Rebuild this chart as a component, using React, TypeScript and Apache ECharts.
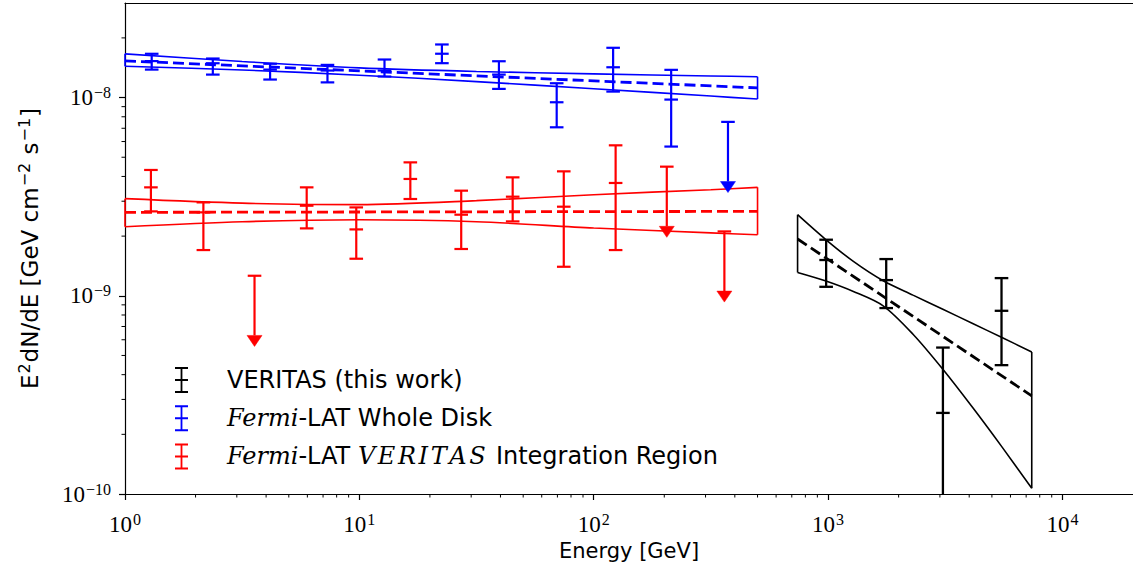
import React, { useEffect, useRef } from "react";
import * as echarts from "echarts";

// ---------- Fermi-LAT whole disk (blue) ----------
const diskE = [1.3, 2.37, 4.16, 7.31, 12.8, 22.5, 39.4, 69.5, 121, 214];
const diskF = [1.528e-8, 1.49e-8, 1.384e-8, 1.369e-8, 1.369e-8, 1.664e-8, 1.306e-8, 9.47e-9, 1.422e-8, 9.77e-9];
const diskLo = [1.384e-8, 1.306e-8, 1.233e-8, 1.193e-8, 1.277e-8, 1.491e-8, 1.106e-8, 7.08e-9, 1.072e-8, 5.66e-9];
const diskHi = [1.663e-8, 1.574e-8, 1.481e-8, 1.462e-8, 1.556e-8, 1.853e-8, 1.525e-8, 1.181e-8, 1.783e-8, 1.38e-8];
const diskUlE = [374];
const diskUlF = [7.54e-9];

// ---------- Fermi-LAT VERITAS integration region (red) ----------
const regE = [1.29, 2.16, 5.96, 9.7, 16.5, 27.2, 45.1, 74.5, 124];
const regF = [3.524e-9, 2.636e-9, 2.847e-9, 2.162e-9, 3.885e-9, 2.565e-9, 3.162e-9, 2.815e-9, 3.708e-9];
const regLo = [2.666e-9, 1.701e-9, 2.188e-9, 1.538e-9, 3.078e-9, 1.722e-9, 2.373e-9, 1.401e-9, 1.701e-9];
const regHi = [4.313e-9, 2.959e-9, 3.524e-9, 2.792e-9, 4.711e-9, 3.391e-9, 3.958e-9, 4.244e-9, 5.742e-9];
const regUlE = [3.57, 205, 361];
const regUlF = [1.262e-9, 4.482e-9, 2.112e-9];

// ---------- VERITAS (black) ----------
const verE = [981, 1770, 3090, 5495];
const verF = [1.515e-9, 1.2e-9, 2.565e-10, 8.4e-10];
const verLo = [1.11e-9, 8.67e-10, 1e-11, 4.467e-10];
const verHi = [1.918e-9, 1.532e-9, 5.48e-10, 1.228e-9];

// ---------- Fits and butterflies ----------
const fermiFitE = [1, 500];
const diskFitF = [1.532e-8, 1.119e-8];
const regFitF = [2.636e-9, 2.666e-9];
const fermiBandE = [1, 3.16, 10, 31.6, 100, 316, 500];
const diskBandUp = [1.662e-8, 1.521e-8, 1.412e-8, 1.354e-8, 1.317e-8, 1.285e-8, 1.274e-8];
const diskBandLow = [1.439e-8, 1.378e-8, 1.297e-8, 1.203e-8, 1.108e-8, 1.018e-8, 9.83e-9];
const regBandUp = [3.09e-9, 2.933e-9, 2.882e-9, 3.019e-9, 3.236e-9, 3.43e-9, 3.524e-9];
const regBandLow = [2.231e-9, 2.364e-9, 2.419e-9, 2.364e-9, 2.197e-9, 2.076e-9, 2.033e-9];

const verFitE = [741, 7396];
const verFitF = [1.934e-9, 3.126e-10];
const verBandE = [741, 972, 1282, 1718, 2303, 3088, 4139, 5548, 7396];
const verBandUp = [2.565e-9, 1.933e-9, 1.491e-9, 1.191e-9, 1.008e-9, 8.55e-10, 7.25e-10, 6.14e-10, 5.21e-10];
const verBandLow = [1.312e-9, 1.191e-9, 1.052e-9, 8.9e-10, 6.4e-10, 4.26e-10, 2.73e-10, 1.714e-10, 1.068e-10];

// ---------- Axes ----------
const X_MIN = 1;
const X_MAX = 2e4;
const Y_MIN = 1e-10;
const Y_MAX = 3e-8;
const xTicks = [1, 10, 100, 1000, 10000];
const yTicks = [1e-10, 1e-9, 1e-8];
const minorMult = [2, 3, 4, 5, 6, 7, 8, 9];
const xMinor: number[] = [];
[1, 10, 100, 1000, 10000].forEach((d) => minorMult.forEach((m) => { if (m * d < X_MAX) xMinor.push(m * d); }));
const yMinor: number[] = [];
[1e-10, 1e-9, 1e-8].forEach((d) => minorMult.forEach((m) => { if (m * d < Y_MAX) yMinor.push(m * d); }));

const NAME_VER = "VERITAS (this work)";
const NAME_DISK = "Fermi-LAT Whole Disk";
const NAME_REG = "Fermi-LAT VERITAS Integration Region";

const ICON = "path://M0,0H13V2H0Z M5.6,1H7.4V25H5.6Z M0,24H13V26H0Z M0,12H13V14H0Z";

function pairs(E: number[], F: number[]) {
  return E.map((e, i) => [e, F[i]]);
}
function errData(E: number[], F: number[], lo: number[], hi: number[], ulE: number[], ulF: number[]) {
  const d = E.map((e, i) => [e, F[i], lo[i], hi[i], 0]);
  ulE.forEach((e, i) => d.push([e, ulF[i], ulF[i], ulF[i], 1]));
  return d;
}

const lineBase = { type: "line", showSymbol: false, symbol: "none", silent: true };

function bandSeries(E: number[], up: number[], low: number[], color: string) {
  const ls = { color, width: 1.6 };
  const n = E.length - 1;
  return [
    { ...lineBase, data: pairs(E, up), smooth: 0.3, lineStyle: ls, z: 2 },
    { ...lineBase, data: pairs(E, low), smooth: 0.3, lineStyle: ls, z: 2 },
    { ...lineBase, data: [[E[0], up[0]], [E[0], low[0]]], lineStyle: ls, z: 2 },
    { ...lineBase, data: [[E[n], up[n]], [E[n], low[n]]], lineStyle: ls, z: 2 },
  ];
}

function errRender(color: string, lw: number) {
  return (params: any, api: any) => {
    const x = api.value(0);
    const y = api.value(1);
    const lo = api.value(2);
    const hi = api.value(3);
    const ul = api.value(4);
    const cs = params.coordSys;
    const bottom = cs.y + cs.height;
    const cap = 6.8;
    const st = { stroke: color, lineWidth: lw, fill: null };
    const c = api.coord([x, y]);
    const children: any[] = [];
    if (ul) {
      const pl = api.coord([x, y / 2]);
      children.push({ type: "line", shape: { x1: c[0] - cap, y1: c[1], x2: c[0] + cap, y2: c[1] }, style: st });
      children.push({ type: "line", shape: { x1: c[0], y1: c[1], x2: c[0], y2: pl[1] }, style: st });
      children.push({
        type: "polygon",
        shape: { points: [[pl[0] - 7.5, pl[1]], [pl[0] + 7.5, pl[1]], [pl[0], pl[1] + 11]] },
        style: { fill: color, stroke: color, lineWidth: 0.5 },
      });
    } else {
      const ph = api.coord([x, hi]);
      let ly = api.coord([x, Math.max(lo, Y_MIN / 10)])[1];
      let lowCap = true;
      if (ly > bottom) { ly = bottom; lowCap = false; }
      children.push({ type: "line", shape: { x1: c[0], y1: ph[1], x2: c[0], y2: ly }, style: st });
      children.push({ type: "line", shape: { x1: c[0] - cap, y1: ph[1], x2: c[0] + cap, y2: ph[1] }, style: st });
      if (lowCap) children.push({ type: "line", shape: { x1: c[0] - cap, y1: ly, x2: c[0] + cap, y2: ly }, style: st });
      children.push({ type: "line", shape: { x1: c[0] - cap, y1: c[1], x2: c[0] + cap, y2: c[1] }, style: st });
    }
    return { type: "group", children };
  };
}

function supLabel(v: number) {
  const e = Math.round(Math.log10(v));
  const s = e < 0 ? "\u2212" + -e : String(e);
  return "{b|10}{s|" + s + "}";
}

const tickRich = {
  b: { fontFamily: "Liberation Serif", fontSize: 23, color: "#000" },
  s: { fontFamily: "Liberation Serif", fontSize: 16, color: "#000", padding: [0, 0, 10, 1] },
};

const italicWide = "VERITAS".split("").map((ch) => "{iv|" + ch + "}").join("");

export default function App() {
  const ref = useRef<HTMLDivElement>(null);
  useEffect(() => {
    if (!ref.current) return;
    const chart = echarts.init(ref.current, null, { renderer: "svg" });
    const option: any = {
      animation: false,
      backgroundColor: "#fff",
      textStyle: { fontFamily: "DejaVu Sans" },
      grid: { left: 125, right: -2, top: 3, bottom: 75, show: false },
      legend: {
        orient: "vertical",
        left: 170,
        top: 362,
        itemWidth: 13,
        itemHeight: 26,
        itemGap: 12.2,
        selectedMode: false,
        data: [
          { name: NAME_VER, icon: ICON },
          { name: NAME_DISK, icon: ICON },
          { name: NAME_REG, icon: ICON },
        ],
        formatter: (name: string) => {
          if (name === NAME_VER) return "{g| }{t|VERITAS (this work)}";
          if (name === NAME_DISK) return "{g| }{it|Fermi}{t|-LAT Whole Disk}";
          return "{g| }{it|Fermi}{t|-LAT }" + italicWide + "{t| Integration Region}";
        },
        textStyle: {
          color: "#000",
          rich: {
            g: { width: 34, fontSize: 10 },
            t: { fontFamily: "DejaVu Sans", fontSize: 24, color: "#000" },
            it: { fontFamily: "DejaVu Serif", fontStyle: "italic", fontSize: 24, color: "#000" },
            iv: { fontFamily: "DejaVu Serif", fontStyle: "italic", fontSize: 24, color: "#000", padding: [0, 2.6, 0, 0] },
          },
        },
      },
      xAxis: [
        {
          type: "log",
          logBase: 10,
          min: X_MIN,
          max: X_MAX,
          position: "bottom",
          name: "Energy [GeV]",
          nameLocation: "middle",
          nameGap: 45,
          nameTextStyle: { fontFamily: "DejaVu Sans", fontSize: 21, color: "#000" },
          axisLine: { show: true, lineStyle: { color: "#000", width: 1.2 } },
          axisTick: { show: true, inside: false, length: 6, lineStyle: { color: "#000", width: 1.2 }, customValues: xTicks },
          axisLabel: { customValues: xTicks, formatter: supLabel, margin: 17, rich: tickRich },
          splitLine: { show: false },
          minorTick: { show: false },
        },
        {
          type: "log",
          logBase: 10,
          min: X_MIN,
          max: X_MAX,
          position: "top",
          axisLine: { show: true, lineStyle: { color: "#000", width: 1.2 } },
          axisTick: { show: false },
          axisLabel: { show: false },
          splitLine: { show: false },
        },
      ],
      yAxis: {
        type: "log",
        logBase: 10,
        min: Y_MIN,
        max: Y_MAX,
        position: "left",
        name: "{n|E}{p|2}{n|dN/dE [GeV cm}{p|\u22122}{n| s}{p|\u22121}{n|]}",
        nameLocation: "middle",
        nameRotate: 90,
        nameGap: 82,
        nameTextStyle: {
          color: "#000",
          rich: {
            n: { fontFamily: "DejaVu Sans", fontSize: 23, color: "#000" },
            p: { fontFamily: "DejaVu Sans", fontSize: 16, color: "#000", padding: [0, 1, 11, 1] },
          },
        },
        axisLine: { show: true, lineStyle: { color: "#000", width: 1.2 } },
        axisTick: { show: true, inside: false, length: 6, lineStyle: { color: "#000", width: 1.2 }, customValues: yTicks },
        axisLabel: { customValues: yTicks, formatter: supLabel, margin: 14, rich: tickRich },
        splitLine: { show: false },
        minorTick: { show: false },
      },
      series: [
        ...bandSeries(fermiBandE, diskBandUp, diskBandLow, "#0000ff"),
        ...bandSeries(fermiBandE, regBandUp, regBandLow, "#ff0000"),
        ...bandSeries(verBandE, verBandUp, verBandLow, "#000000"),
        { ...lineBase, data: pairs(fermiFitE, diskFitF), lineStyle: { color: "#0000ff", width: 2.8, type: [11, 5] }, z: 3 },
        { ...lineBase, data: pairs(fermiFitE, regFitF), lineStyle: { color: "#ff0000", width: 2.8, type: [11, 5] }, z: 3 },
        { ...lineBase, data: pairs(verFitE, verFitF), lineStyle: { color: "#000000", width: 2.8, type: [11, 5] }, z: 3 },
        {
          type: "custom", name: NAME_VER, itemStyle: { color: "#000000" }, z: 4, silent: true,
          renderItem: errRender("#000000", 2.3), data: errData(verE, verF, verLo, verHi, [], []),
          encode: { x: 0, y: 1 },
        },
        {
          type: "custom", name: NAME_DISK, itemStyle: { color: "#0000ff" }, z: 4, silent: true,
          renderItem: errRender("#0000ff", 2.2), data: errData(diskE, diskF, diskLo, diskHi, diskUlE, diskUlF),
          encode: { x: 0, y: 1 },
        },
        {
          type: "custom", name: NAME_REG, itemStyle: { color: "#ff0000" }, z: 4, silent: true,
          renderItem: errRender("#ff0000", 2.2), data: errData(regE, regF, regLo, regHi, regUlE, regUlF),
          encode: { x: 0, y: 1 },
        },
        {
          type: "custom", z: 5, silent: true, clip: false,
          data: xMinor.map((v) => [v, Y_MIN]), encode: { x: 0, y: 1 },
          renderItem: (params: any, api: any) => {
            const p = api.coord([api.value(0), Y_MIN]);
            return { type: "line", shape: { x1: p[0], y1: p[1], x2: p[0], y2: p[1] + 3.5 }, style: { stroke: "#000", lineWidth: 1 } };
          },
        },
        {
          type: "custom", z: 5, silent: true, clip: false,
          data: yMinor.map((v) => [X_MIN, v]), encode: { x: 0, y: 1 },
          renderItem: (params: any, api: any) => {
            const p = api.coord([X_MIN, api.value(1)]);
            return { type: "line", shape: { x1: p[0], y1: p[1], x2: p[0] - 3.5, y2: p[1] }, style: { stroke: "#000", lineWidth: 1 } };
          },
        },
      ],
    };
    chart.setOption(option);
    return () => chart.dispose();
  }, []);
  return <div ref={ref} style={{ position: "absolute", left: 0, top: 0, width: 1133, height: 569 }} />;
}
